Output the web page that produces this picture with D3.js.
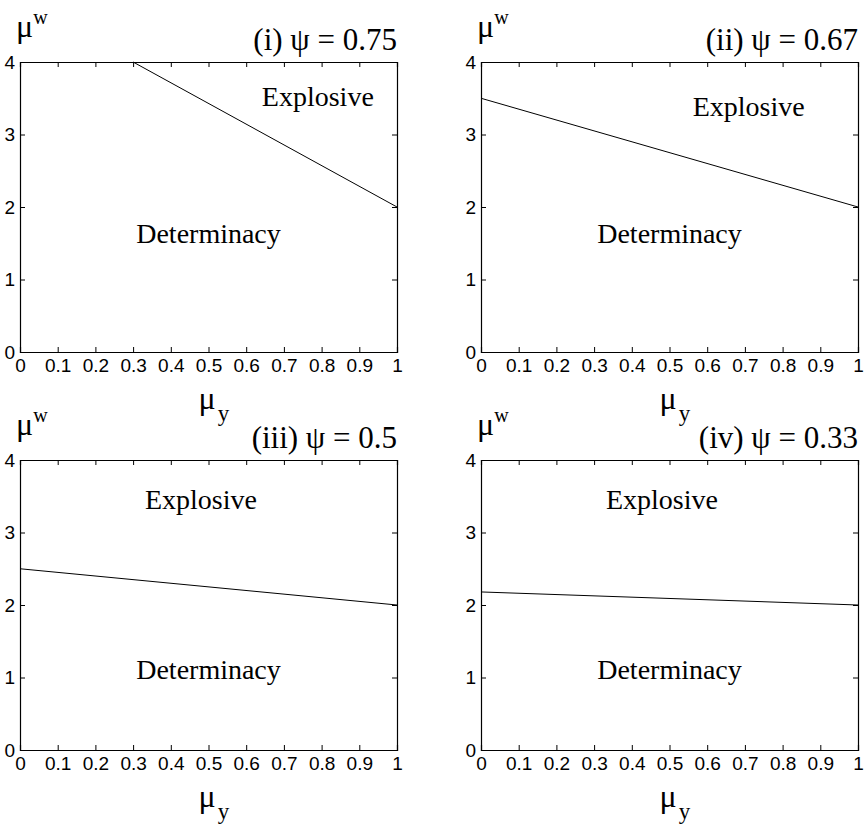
<!DOCTYPE html>
<html>
<head>
<meta charset="utf-8">
<script src="https://cdn.jsdelivr.net/npm/d3@7/dist/d3.min.js"></script>
<style>
  body { margin: 0; background: #fff; }
  svg text { fill: #000; }
</style>
</head>
<body>
<svg id="chart"></svg>
<script>
// Data
const panelTitles = ["(i) \u03c8 = 0.75", "(ii) \u03c8 = 0.67", "(iii) \u03c8 = 0.5", "(iv) \u03c8 = 0.33"];
const boundaryMuY = [[0.3, 1], [0, 1], [0, 1], [0, 1]];
const boundaryMuW = [[4, 2], [3.5, 2], [2.5, 2], [2.18, 2]];
const regionNames = ["Explosive", "Determinacy"];
const xTickValues = [0, 0.1, 0.2, 0.3, 0.4, 0.5, 0.6, 0.7, 0.8, 0.9, 1];
const xTickLabels = ["0", "0.1", "0.2", "0.3", "0.4", "0.5", "0.6", "0.7", "0.8", "0.9", "1"];
const yTickValues = [0, 1, 2, 3, 4];
const yTickLabels = ["0", "1", "2", "3", "4"];

// Layout
const W = 864, H = 827;
const panels = [
    { left: 20, top: 62, expl: [0.79, 3.4], det: [0.5, 1.5] },
    { left: 481, top: 62, expl: [0.71, 3.25], det: [0.5, 1.5] },
    { left: 20, top: 460, expl: [0.48, 3.32], det: [0.5, 0.98] },
    { left: 481, top: 460, expl: [0.48, 3.32], det: [0.5, 0.98] }
];
const pw = 377, ph = 290;
const serif = "'Liberation Serif', 'Times New Roman', serif";
const sans = "'Liberation Sans', Arial, sans-serif";

const svg = d3.select("#chart")
    .attr("width", W)
    .attr("height", H);

const x = d3.scaleLinear().domain([0, 1]).range([0, pw]);
const y = d3.scaleLinear().domain([0, 4]).range([ph, 0]);

panels.forEach((p, i) => {
    const g = svg.append("g")
        .attr("transform", `translate(${p.left},${p.top})`);

    // inward ticks on all four sides
    g.append("g")
        .attr("transform", `translate(0,${ph})`)
        .call(d3.axisBottom(x).tickValues(xTickValues).tickSize(-5).tickPadding(7)
            .tickFormat((d, k) => xTickLabels[k]));
    g.append("g")
        .call(d3.axisTop(x).tickValues(xTickValues).tickSize(-5).tickFormat(""));
    g.append("g")
        .call(d3.axisLeft(y).tickValues(yTickValues).tickSize(-5).tickPadding(5)
            .tickFormat((d, k) => yTickLabels[k]));
    g.append("g")
        .attr("transform", `translate(${pw},0)`)
        .call(d3.axisRight(y).tickValues(yTickValues).tickSize(-5).tickFormat(""));

    g.selectAll(".domain").attr("stroke", "#000").attr("stroke-width", 1.2);
    g.selectAll(".tick line").attr("stroke", "#000");
    g.selectAll(".tick text")
        .style("font-family", sans)
        .style("font-size", "19px");

    // boundary line
    const line = d3.line().x(d => x(d[0])).y(d => y(d[1]));
    g.append("path")
        .datum(boundaryMuY[i].map((v, k) => [v, boundaryMuW[i][k]]))
        .attr("d", line)
        .attr("fill", "none")
        .attr("stroke", "#000")
        .attr("stroke-width", 1);

    // region labels
    g.append("text")
        .attr("x", x(p.expl[0]))
        .attr("y", y(p.expl[1]))
        .attr("text-anchor", "middle")
        .style("font-family", serif)
        .style("font-size", "28px")
        .text(regionNames[0]);
    g.append("text")
        .attr("x", x(p.det[0]))
        .attr("y", y(p.det[1]))
        .attr("text-anchor", "middle")
        .style("font-family", serif)
        .style("font-size", "28px")
        .text(regionNames[1]);

    // panel title
    g.append("text")
        .attr("x", pw)
        .attr("y", -12)
        .attr("text-anchor", "end")
        .style("font-family", serif)
        .style("font-size", "31px")
        .text(panelTitles[i]);

    // y label mu^w
    const yl = g.append("text")
        .attr("x", -4)
        .attr("y", -25)
        .style("font-family", serif)
        .style("font-size", "32px");
    yl.append("tspan").text("\u03bc");
    yl.append("tspan").attr("dy", -13).style("font-size", "20px").text("w");

    // x label mu_y
    const xl = g.append("text")
        .attr("x", pw / 2 - 10)
        .attr("y", ph + 57)
        .style("font-family", serif)
        .style("font-size", "32px");
    xl.append("tspan").text("\u03bc");
    xl.append("tspan").attr("dy", 12).attr("dx", 2).style("font-size", "23px").text("y");
});
</script>
</body>
</html>
